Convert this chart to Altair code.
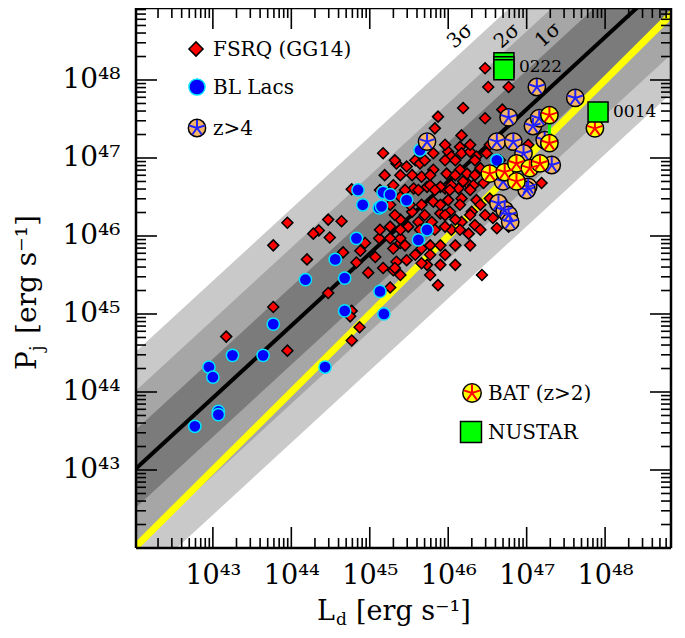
import altair as alt
import pandas as pd
import numpy as np

# ---------------- data (log10 values) ----------------
fsrq_logLd = [43.95, 43.77, 44.20, 44.47, 44.64, 44.35, 44.28, 44.49, 43.77, 43.17,
              43.95, 44.47, 44.77, 44.66, 44.83, 44.98, 44.94, 44.88, 45.07, 45.17,
              45.26, 44.77, 44.75, 44.87, 44.77, 45.12, 45.30, 45.34, 45.39, 47.19,
              46.43, 45.87, 45.77, 45.73, 45.66, 45.39, 45.32, 45.47, 45.66, 45.77,
              46.26, 46.34, 46.30, 46.36, 46.57, 46.62, 46.17, 46.04, 46.09, 45.96,
              45.90, 46.02, 45.81, 45.66, 45.54, 45.39, 45.26, 45.49, 45.62, 45.79,
              45.39, 45.26, 45.30, 46.17, 46.00, 46.13, 45.96, 45.73, 45.56, 45.39,
              45.24, 46.24, 46.45, 46.53, 46.77, 46.47, 46.51, 46.77, 46.19, 45.87,
              46.47, 45.83, 46.17, 45.17, 45.34, 45.47, 45.58, 45.64, 45.81, 46.00,
              46.04, 46.15, 46.17, 46.28, 46.36, 46.49, 46.69, 47.02, 45.54, 45.66,
              45.81, 45.98, 46.15, 46.24, 46.41, 46.04, 46.19, 46.32, 45.77, 45.90,
              45.62, 45.30,
              45.96, 46.28, 46.53, 45.32, 45.70, 45.96, 46.09, 46.34, 46.66, 45.19,
              45.39, 45.77, 46.09, 46.34, 46.53, 45.13, 45.45, 45.83, 46.02, 46.28,
              45.26, 45.51, 45.90, 46.15, 46.41, 45.32, 45.70, 45.96, 46.28, 46.47,
              45.13, 45.39, 45.64, 45.83, 46.15, 46.41, 45.45, 45.90, 46.09, 46.28,
              45.58, 45.77, 45.96, 45.90, 46.09]
fsrq_logPj = [46.17, 45.88, 45.70, 46.21, 46.19, 46.07, 46.03, 45.98, 45.09, 44.71,
              44.53, 45.27, 46.60, 45.79, 45.66, 45.53, 45.91, 45.81, 45.73, 45.59,
              45.34, 45.04, 44.97, 44.83, 44.66, 45.97, 45.56, 45.67, 45.91, 46.68,
              45.50, 45.37, 45.50, 45.63, 45.65, 45.50, 45.59, 45.69, 45.84, 45.88,
              46.03, 46.14, 46.31, 46.46, 46.23, 46.10, 46.18, 46.08, 46.21, 46.12,
              46.29, 46.31, 46.44, 46.40, 46.31, 46.21, 46.12, 46.12, 46.18, 46.18,
              45.97, 45.97, 45.84, 46.48, 46.46, 46.61, 46.61, 46.63, 46.61, 46.50,
              46.55, 46.68, 46.68, 46.48, 46.12, 48.15, 47.91, 47.91, 47.64, 47.53,
              47.51, 47.38, 47.29, 47.06, 46.93, 46.89, 46.97, 46.93, 47.06, 47.08,
              47.02, 47.14, 47.06, 47.08, 47.02, 47.06, 47.62, 47.17, 46.78, 46.76,
              46.85, 46.80, 46.85, 46.80, 46.87, 46.65, 46.70, 46.65, 46.65, 46.63,
              46.59, 46.65,
              47.17, 47.17, 47.17, 46.97, 46.97, 46.97, 46.97, 46.97, 46.97, 46.78,
              46.78, 46.78, 46.78, 46.78, 46.78, 46.59, 46.59, 46.59, 46.59, 46.59,
              46.40, 46.40, 46.40, 46.40, 46.40, 46.27, 46.27, 46.27, 46.27, 46.27,
              46.08, 46.08, 46.08, 46.08, 46.08, 46.08, 45.88, 45.88, 45.88, 45.88,
              45.76, 45.76, 45.76, 45.63, 45.63]

bll_logLd = [44.85, 44.91, 45.17, 45.26, 45.12, 45.47, 44.83, 44.56, 44.18, 44.68,
             45.13, 43.77, 43.25, 43.64, 44.68, 45.18, 44.43, 42.95, 43.00, 43.07,
             43.07, 42.77, 45.15, 45.73, 45.62, 45.64, 46.62]
bll_logPj = [46.59, 46.40, 46.56, 46.53, 46.36, 46.46, 45.97, 45.70, 45.44, 45.46,
             45.29, 44.87, 44.47, 44.47, 45.04, 45.00, 44.32, 44.32, 44.19, 43.75,
             43.71, 43.56, 46.38, 46.08, 45.95, 47.10, 46.97]

hz_logLd = [47.13, 47.62, 46.77, 47.08, 47.16, 45.73, 46.62, 46.83, 47.23, 47.32,
            46.96, 47.02, 46.70, 46.64, 46.72, 46.77, 46.79, 47.00]
hz_logPj = [47.91, 47.77, 47.52, 47.41, 47.51, 47.21, 47.21, 47.21, 47.23, 46.91,
            47.06, 46.63, 46.70, 46.42, 46.33, 46.27, 46.18, 46.59]

bat_logLd = [47.29, 47.29, 47.87, 46.53, 46.72, 46.87, 46.87, 47.04, 47.17]
bat_logPj = [47.55, 47.19, 47.38, 46.80, 46.82, 46.93, 46.70, 46.87, 46.93]

nu_logLd = [46.71, 46.71, 46.71, 47.91]
nu_logPj = [48.22, 48.17, 48.13, 47.59]
nu_label = ["", "0222", "", "0014"]

# range bar linking the two BAT estimates of one source
seg_logLd = [47.29]
seg_logPj_lo = [47.19]
seg_logPj_hi = [47.55]

# fit: log Pj = FIT_A + FIT_B (log Ld - 42), sigma bands
FIT_A, FIT_B, SIGMA = 43.0, 0.925, 0.5

tick_major = [43, 44, 45, 46, 47, 48]

# ---------------- layout ----------------
W, H = 535, 540
XMIN, XMAX = 42.02, 48.84
YMIN, YMAX = 42.0, 48.923
FONT = "DejaVu Serif"

xs = alt.Scale(type="log", domain=[10 ** XMIN, 10 ** XMAX], nice=False)
ys = alt.Scale(type="log", domain=[10 ** YMIN, 10 ** YMAX], nice=False)

sup = {"0": "⁰", "1": "¹", "2": "²", "3": "³", "4": "⁴",
       "5": "⁵", "6": "⁶", "7": "⁷", "8": "⁸", "9": "⁹"}
expr_e = "round(log(datum.value)/LN10)"
lab = "''"
for e in tick_major:
    lab = f"({expr_e}=={e} ? '10{''.join(sup[c] for c in str(e))}' : {lab})"

axis_common = dict(values=[10.0 ** e for e in tick_major], labelExpr=lab, ticks=False,
                   domain=False, grid=False, title=None, labelFont=FONT,
                   labelColor="black", labelOverlap=False, labelFlush=False)
X = lambda f: alt.X(f, type="quantitative", scale=xs,
                    axis=alt.Axis(labelPadding=14, labelFontSize=27, **axis_common))
Y = lambda f: alt.Y(f, type="quantitative", scale=ys,
                    axis=alt.Axis(labelPadding=16, labelFontSize=28, **axis_common))


def pts(lx, ly, **extra):
    d = pd.DataFrame({"Ld": 10.0 ** np.array(lx), "Pj": 10.0 ** np.array(ly)})
    for k, v in extra.items():
        d[k] = v
    return d


# bands
bx = np.array([41.9, 49.0])
bline = FIT_A + FIT_B * (bx - 42)
band_layers = []
for k, col in [(3, "#c9c9c9"), (2, "#a6a6a6"), (1, "#7b7b7b")]:
    d = pd.DataFrame({"Ld": 10.0 ** bx, "lo": 10.0 ** (bline - k * SIGMA),
                      "hi": 10.0 ** (bline + k * SIGMA)})
    band_layers.append(alt.Chart(d).mark_area(color=col, clip=True, opacity=1).encode(
        x=X("Ld"), y=Y("lo"), y2="hi"))

fit_df = pd.DataFrame({"Ld": 10.0 ** bx, "Pj": 10.0 ** bline})
eq_x = np.array([41.9, 49.2])
eq_df = pd.DataFrame({"Ld": 10.0 ** eq_x, "Pj": 10.0 ** eq_x})
yellow = alt.Chart(eq_df).mark_line(color="#ffff00", strokeWidth=7, clip=True).encode(x=X("Ld"), y=Y("Pj"))
black = alt.Chart(fit_df).mark_line(color="black", strokeWidth=4, clip=True).encode(x=X("Ld"), y=Y("Pj"))

STAR = "M0,0L0,-1M0,0L0.951,-0.309M0,0L0.588,0.809M0,0L-0.588,0.809M0,0L-0.951,-0.309"

fsrq = alt.Chart(pts(fsrq_logLd, fsrq_logPj)).mark_point(
    shape="diamond", filled=True, fill="#ff0000", stroke="black", strokeWidth=1.5,
    size=120, opacity=1, clip=True).encode(x=X("Ld"), y=Y("Pj"))
bll = alt.Chart(pts(bll_logLd, bll_logPj)).mark_point(
    shape="circle", filled=True, fill="#0000ff", stroke="#00e5ff", strokeWidth=1.5,
    size=150, opacity=1, clip=True).encode(x=X("Ld"), y=Y("Pj"))
hz_c = alt.Chart(pts(hz_logLd, hz_logPj)).mark_point(
    shape="circle", filled=True, fill="#f5b565", stroke="black", strokeWidth=1.5,
    size=300, opacity=1, clip=True).encode(x=X("Ld"), y=Y("Pj"))
hz_s = alt.Chart(pts(hz_logLd, hz_logPj)).mark_point(
    shape=STAR, filled=False, stroke="#2222ff", strokeWidth=2,
    size=260, opacity=1, clip=True).encode(x=X("Ld"), y=Y("Pj"))
seg = alt.Chart(pd.DataFrame({"Ld": 10.0 ** np.array(seg_logLd),
                              "lo": 10.0 ** np.array(seg_logPj_lo),
                              "hi": 10.0 ** np.array(seg_logPj_hi)})).mark_rule(
    color="#00ff00", strokeWidth=3).encode(x=X("Ld"), y=Y("lo"), y2="hi")
bat_c = alt.Chart(pts(bat_logLd, bat_logPj)).mark_point(
    shape="circle", filled=True, fill="#ffff00", stroke="black", strokeWidth=1.5,
    size=300, opacity=1, clip=True).encode(x=X("Ld"), y=Y("Pj"))
bat_s = alt.Chart(pts(bat_logLd, bat_logPj)).mark_point(
    shape=STAR, filled=False, stroke="#ff0000", strokeWidth=2,
    size=260, opacity=1, clip=True).encode(x=X("Ld"), y=Y("Pj"))
nu = alt.Chart(pts(nu_logLd, nu_logPj, lab=nu_label)).mark_point(
    shape="square", filled=True, fill="#00ff00", stroke="black", strokeWidth=1.5,
    size=400, opacity=1, clip=True).encode(x=X("Ld"), y=Y("Pj"))
nu_txt = alt.Chart(pts(nu_logLd, nu_logPj, lab=nu_label)).mark_text(
    align="left", baseline="middle", dx=15, font=FONT, fontSize=17, color="black").encode(
    x=X("Ld"), y=Y("Pj"), text="lab:N")

# ticks
def minor_vals(lo, hi):
    out = []
    for n in range(41, 50):
        for k in range(2, 10):
            v = np.log10(k) + n
            if lo < v < hi:
                out.append(10.0 ** v)
    return out

maj_df = pd.DataFrame({"v": [10.0 ** e for e in tick_major]})
minx_df = pd.DataFrame({"v": minor_vals(XMIN, XMAX)})
miny_df = pd.DataFrame({"v": minor_vals(YMIN, YMAX)})
TK = dict(color="black", strokeWidth=1.6)
tick_layers = []
for d, L in [(maj_df, 21), (minx_df, 10)]:
    tick_layers.append(alt.Chart(d).mark_rule(**TK).encode(x=X("v"), y=alt.value(H), y2=alt.value(H - L)))
    tick_layers.append(alt.Chart(d).mark_rule(**TK).encode(x=X("v"), y=alt.value(0), y2=alt.value(L)))
for d, L in [(maj_df, 21), (miny_df, 10)]:
    tick_layers.append(alt.Chart(d).mark_rule(**TK).encode(y=Y("v"), x=alt.value(0), x2=alt.value(L)))
    tick_layers.append(alt.Chart(d).mark_rule(**TK).encode(y=Y("v"), x=alt.value(W), x2=alt.value(W - L)))

one = pd.DataFrame({"a": [0]})
FR = dict(color="black", strokeWidth=2.5)
frame = [
    alt.Chart(one).mark_rule(**FR).encode(x=alt.value(0), x2=alt.value(W), y=alt.value(0)),
    alt.Chart(one).mark_rule(**FR).encode(x=alt.value(0), x2=alt.value(W), y=alt.value(H)),
    alt.Chart(one).mark_rule(**FR).encode(y=alt.value(0), y2=alt.value(H), x=alt.value(0)),
    alt.Chart(one).mark_rule(**FR).encode(y=alt.value(0), y2=alt.value(H), x=alt.value(W)),
]


def txt(s, x, y, size=20, align="left", baseline="middle", angle=0):
    kw = dict(text=s, font=FONT, fontSize=size, align=align, baseline=baseline, color="black")
    if angle:
        kw["angle"] = angle
    return alt.Chart(one).mark_text(**kw).encode(x=alt.value(x), y=alt.value(y))


def sym(x, y, **kw):
    return alt.Chart(one).mark_point(opacity=1, **kw).encode(x=alt.value(x), y=alt.value(y))


legend = [
    sym(60, 41, shape="diamond", filled=True, fill="#ff0000", stroke="black", strokeWidth=1.5, size=200),
    txt("FSRQ (GG14)", 77, 42),
    sym(61, 79, shape="circle", filled=True, fill="#0000ff", stroke="#00e5ff", strokeWidth=1.5, size=260),
    txt("BL Lacs", 77, 80),
    sym(61, 120, shape="circle", filled=True, fill="#f5b565", stroke="black", strokeWidth=1.5, size=300),
    sym(61, 120, shape=STAR, filled=False, stroke="#2222ff", strokeWidth=2, size=260),
    txt("z>4", 77, 121),
    sym(336, 385, shape="circle", filled=True, fill="#ffff00", stroke="black", strokeWidth=1.5, size=340),
    sym(336, 385, shape=STAR, filled=False, stroke="#ff0000", strokeWidth=2, size=290),
    txt("BAT (z>2)", 352, 386),
    sym(335, 424, shape="square", filled=True, fill="#00ff00", stroke="black", strokeWidth=1.5, size=440),
    txt("NUSTAR", 352, 425),
    txt("3σ", 324, 28, size=20, align="center", angle=318),
    txt("2σ", 371, 28, size=20, align="center", angle=318),
    txt("1σ", 412, 27, size=20, align="center", angle=318),
]

titles = [
    txt("L", 199, 612, size=27, align="right", baseline="alphabetic"),
    txt("d", 200, 617, size=17, align="left", baseline="alphabetic"),
    txt("[erg s⁻¹]", 220, 612, size=27, align="left", baseline="alphabetic"),
    txt("P", -100, 362, size=28, align="left", baseline="alphabetic", angle=270),
    txt("j", -93, 343, size=18, align="left", baseline="alphabetic", angle=270),
    txt("[erg s⁻¹]", -100, 326, size=28, align="left", baseline="alphabetic", angle=270),
]

chart = alt.layer(
    *band_layers, yellow, black, fsrq, bll, hz_c, hz_s, seg, bat_c, bat_s, nu, nu_txt,
    *tick_layers, *frame, *legend, *titles
).properties(
    width=W, height=H,
    padding={"left": 128, "top": 0, "right": 6, "bottom": 82},
    autosize=alt.AutoSizeParams(type="none"),
).configure_view(stroke=None).configure(background="white")

chart.save("out.html", embed_options={"renderer": "svg", "actions": False})
